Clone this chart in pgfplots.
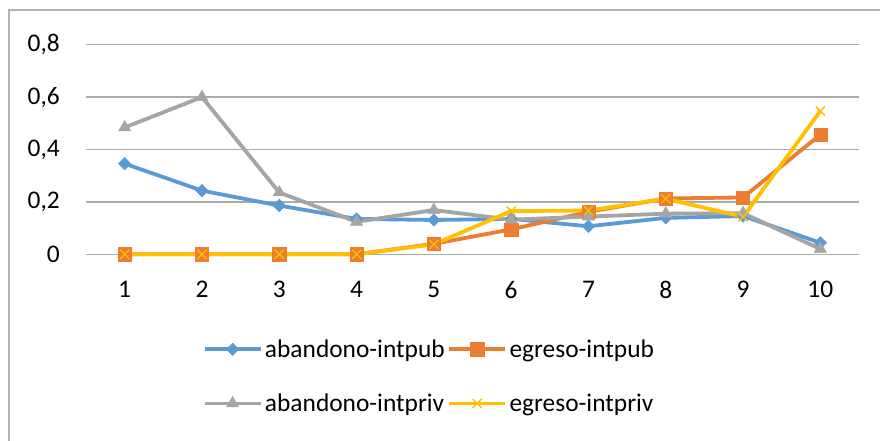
\documentclass[border=0pt]{standalone}
\usepackage{fontspec}
\setmainfont{Carlito}
\usepackage{pgfplots}
\pgfplotsset{compat=1.18}
\definecolor{cblue}{HTML}{5B9BD5}
\definecolor{corange}{HTML}{ED7D31}
\definecolor{cgray}{HTML}{A5A5A5}
\definecolor{cyellow}{HTML}{FFC000}
\definecolor{gridc}{HTML}{ABABAB}
\definecolor{framec}{HTML}{B3B3B3}
\begin{document}
\begin{tikzpicture}
\path[use as bounding box] (0bp,0bp) rectangle (880bp,441bp);
\draw[color=framec, line width=1.5bp] (9bp,0bp) -- (9bp,431bp) -- (880bp,431bp);
\begin{axis}[
  at={(86bp,186.7bp)}, anchor=south west,
  scale only axis, width=773bp, height=209.6bp,
  xmin=0.5, xmax=10.5, ymin=0, ymax=0.8,
  xtick={1,2,3,4,5,6,7,8,9,10},
  ytick={0,0.2,0.4,0.6,0.8},
  axis line style={draw=none},
  major tick length=0pt,
  ymajorgrids,
  grid style={color=gridc, line width=1.5bp},
  ticklabel style={font=\fontsize{25.5}{30}\selectfont},
  /pgf/number format/assume math mode=true,
  yticklabel style={inner sep=0pt, xshift=-26bp, /pgf/number format/.cd, fixed, precision=1, use comma},
  xticklabel style={inner sep=0pt, yshift=-27bp},
  clip=false,
  legend columns=2,
  legend cell align=left,
  legend style={draw=none, fill=none, at={(0.1507,-0.3946)}, anchor=north west, inner sep=0pt,
    font=\fontsize{25.5}{30}\selectfont, column sep=0bp, row sep=30bp,
    nodes={inner sep=2.5bp}},
  legend image code/.code={\draw[mark repeat=2, mark phase=2, #1] plot coordinates {(0bp,0bp) (28bp,0bp) (56bp,0bp)};},
  every axis plot/.append style={line width=3.8bp},
]
\addplot[color=cblue, mark=square*, mark size=4.4bp, mark options={rotate=45, fill=cblue, draw=cblue, line width=0.5bp}]
  coordinates {(1,0.346)(2,0.243)(3,0.186)(4,0.135)(5,0.131)(6,0.135)(7,0.107)(8,0.139)(9,0.146)(10,0.044)};
\addlegendentry{abandono-intpub}
\addplot[color=corange, mark=square*, mark size=6.6bp, mark options={fill=corange, draw=corange, line width=0.5bp}]
  coordinates {(1,0)(2,0)(3,0)(4,0)(5,0.040)(6,0.095)(7,0.162)(8,0.213)(9,0.217)(10,0.457)};
\addlegendentry{egreso-intpub}
\addplot[color=cgray, mark=triangle*, mark size=7bp, mark options={fill=cgray, draw=cgray, line width=0.5bp}]
  coordinates {(1,0.484)(2,0.600)(3,0.236)(4,0.124)(5,0.169)(6,0.132)(7,0.144)(8,0.155)(9,0.157)(10,0.020)};
\addlegendentry{abandono-intpriv}
\addplot[color=cyellow, mark=x, mark size=6.5bp, mark options={draw=cyellow, line width=1.3bp}]
  coordinates {(1,0)(2,0)(3,0)(4,0)(5,0.038)(6,0.165)(7,0.167)(8,0.212)(9,0.143)(10,0.547)};
\addlegendentry{egreso-intpriv}
\end{axis}
\end{tikzpicture}
\end{document}
